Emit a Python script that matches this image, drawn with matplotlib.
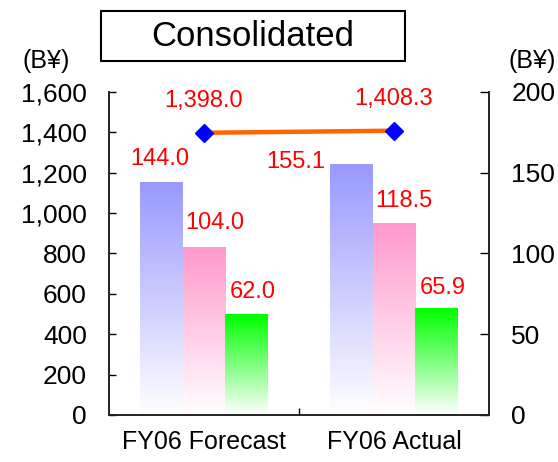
import numpy as np
import matplotlib
matplotlib.use("Agg")
import matplotlib.pyplot as plt
from matplotlib.colors import LinearSegmentedColormap
from matplotlib.patches import Rectangle

plt.rcParams['font.family'] = ['Liberation Sans', 'DejaVu Sans']

# data
categories = ['FY06 Forecast', 'FY06 Actual']
line_vals = [1398.0, 1408.3]          # left axis
series_a = [144.0, 155.1]             # right axis, blue bars
series_b = [104.0, 118.5]             # pink bars
series_c = [62.0, 65.9]               # green bars
left_ticks = [0, 200, 400, 600, 800, 1000, 1200, 1400, 1600]
right_ticks = [0, 50, 100, 150, 200]

bar_colors = ['#9999FF', '#FF99CC', '#00FF00']
# label offsets (px) relative to bar top centre, per series / category
label_off = [[(-2, 23), (-56, 3)],
             [(11, 24), (10, 23)],
             [(6, 23), (6, 21)]]

fig = plt.figure(figsize=(5.58, 4.62), dpi=100)
ax2 = fig.add_axes([109/558, 1-415/462, 380/558, 323/462])
ax = ax2.twinx()
ax.yaxis.tick_left()
ax.yaxis.set_label_position('left')
ax2.yaxis.tick_right()
ax.set_zorder(ax2.get_zorder() + 1)
ax.patch.set_visible(False)

x = np.arange(len(categories))
w = 0.225
px = 0.72  # px -> points

for i, (vals, c) in enumerate(zip([series_a, series_b, series_c], bar_colors)):
    bars = ax2.bar(x + (i - 1) * w, vals, w, color='none', edgecolor='none')
    cmap = LinearSegmentedColormap.from_list('g%d' % i, ['white', c])
    grad = np.linspace(0, 1, 256).reshape(-1, 1)
    for j, rect in enumerate(bars):
        x0 = rect.get_x()
        h = rect.get_height()
        ax2.imshow(grad, extent=[x0, x0 + rect.get_width(), 0, h], origin='lower',
                   aspect='auto', cmap=cmap, zorder=1)
        dx, dy = label_off[i][j]
        ax2.annotate('%.1f' % vals[j], (x0 + rect.get_width() / 2, h),
                     xytext=(dx * px, dy * px), textcoords='offset points',
                     ha='center', va='center', color='#FF0000', fontsize=17)

ax.plot(x, line_vals, color='#FF6600', lw=3.2, marker='D', markersize=9,
        markerfacecolor='#0000FF', markeredgecolor='#0000FF', zorder=3)
for xi, v in zip(x, line_vals):
    ax.annotate(f'{v:,.1f}', (xi, v), xytext=(0, 32 * px), textcoords='offset points',
                ha='center', va='center', color='#FF0000', fontsize=17)

ax.set_ylim(0, 1600)
ax2.set_ylim(0, 200)
ax2.set_xlim(-0.5, 1.5)

ax.set_yticks(left_ticks)
ax.set_yticklabels([f'{t:,}' for t in left_ticks])
ax2.set_yticks(right_ticks)
ax.tick_params(axis='y', direction='in', length=5, width=1, pad=16, labelsize=19)
ax2.tick_params(axis='y', direction='in', length=6.5, width=1, pad=16, labelsize=19)

ax2.set_xticks(x)
ax2.set_xticklabels(categories)
ax2.tick_params(axis='x', which='major', length=0, pad=11, labelsize=18)
ax2.set_xticks([0.5], minor=True)
ax2.tick_params(axis='x', which='minor', direction='in', length=5, width=1)

for a in (ax, ax2):
    a.spines['top'].set_visible(False)
    for s in ('left', 'right', 'bottom'):
        a.spines[s].set_linewidth(1.2)
        a.spines[s].set_color('#222222')

fig.text(22/558, 1-61/462, '(B¥)', fontsize=18, ha='left', va='center')
fig.text(509/558, 1-61/462, '(B¥)', fontsize=18, ha='left', va='center')

fig.patches.append(Rectangle((101/558, 1-61/462), 304/558, 50/462, transform=fig.transFigure,
                             facecolor='white', edgecolor='black', lw=1.5))
fig.text(253/558, 1-37/462, 'Consolidated', fontsize=25, ha='center', va='center')

fig.savefig('out.png', dpi=100)
